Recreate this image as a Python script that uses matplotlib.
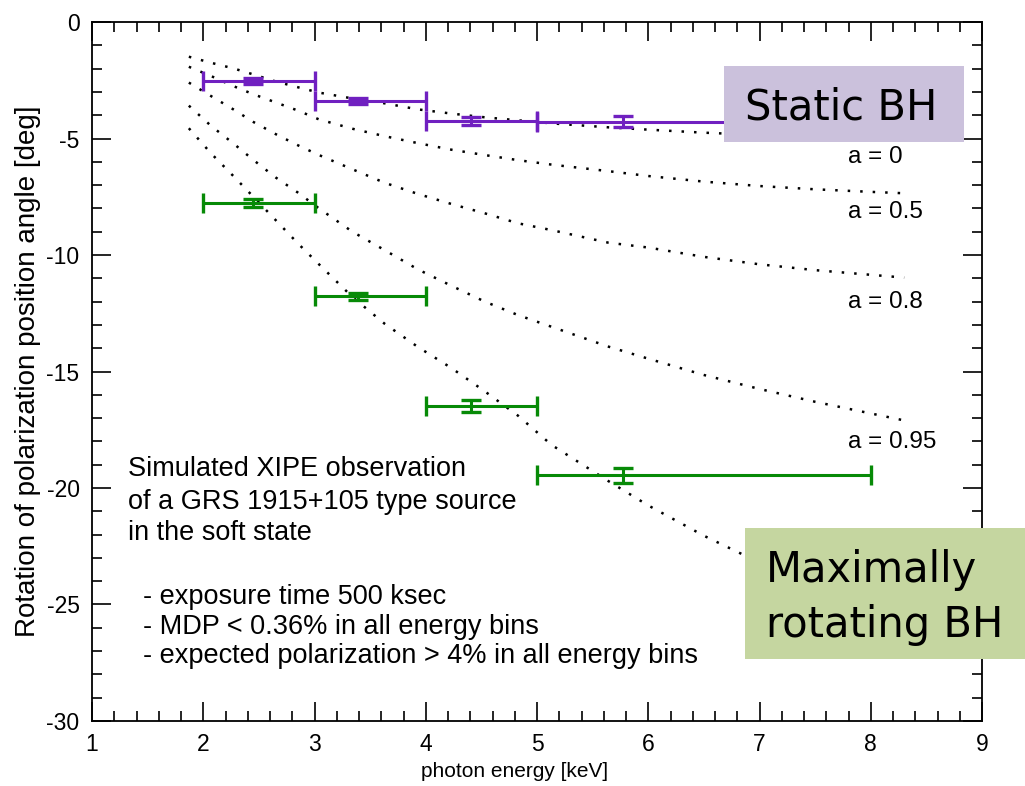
import matplotlib
matplotlib.use("Agg")
from matplotlib import pyplot as plt
from matplotlib.patches import Rectangle
import numpy as np

# ---- data ----
bin_lo = [2, 3, 4, 5]
bin_hi = [3, 4, 5, 8]
bin_mid = [2.45, 3.39, 4.41, 5.77]

static_y = [-2.53, -3.38, -4.24, -4.28]
static_err = [0.12, 0.12, 0.17, 0.24]

rot_y = [-7.78, -11.77, -16.49, -19.46]
rot_err = [0.18, 0.14, 0.26, 0.33]

# model curves (dotted), one per spin value
curve_x = [1.87, 2.07, 2.27, 2.45, 2.65, 2.85, 3.04, 3.34, 3.63, 3.93, 4.23,
           4.53, 4.83, 5.13, 5.64, 6.0, 6.5, 7.0, 7.5, 8.0, 8.3]
a0 = [-1.49, -1.75, -1.99, -2.25, -2.55, -2.80, -3.03, -3.28, -3.49, -3.75,
      -3.93, -4.09, -4.22, -4.35, -4.52, -4.62, -4.75, -4.85, -4.95, -5.02, -5.06]
a05 = [-1.92, -2.32, -2.75, -3.10, -3.45, -3.80, -4.18, -4.58, -4.90, -5.20,
       -5.48, -5.71, -5.93, -6.12, -6.40, -6.61, -6.85, -7.04, -7.18, -7.29, -7.35]
a08 = [-2.60, -3.18, -3.75, -4.29, -4.81, -5.29, -5.71, -6.32, -6.90, -7.38,
       -7.81, -8.21, -8.64, -8.93, -9.47, -9.68, -10.08, -10.40, -10.65, -10.85, -10.97]
a095 = [-3.59, -4.46, -5.21, -5.92, -6.67, -7.32, -8.00, -9.00, -9.79, -10.62,
        -11.32, -12.00, -12.58, -13.08, -13.93, -14.45, -15.15, -15.75, -16.30, -16.80, -17.10]
a_max = [-4.56, -5.64, -6.61, -7.50, -8.50, -9.50, -10.40, -11.80, -12.95, -13.95,
         -14.85, -15.85, -16.90, -18.15, -19.70, -20.75, -22.05, -23.20, -24.30, -25.30, -25.90]

curves = [a0, a05, a08, a095, a_max]
curve_labels = ["a = 0", "a = 0.5", "a = 0.8", "a = 0.95"]
label_y = [0.807, 0.728, 0.599, 0.399]

purple = "#7020c0"
green = "#078a07"

plt.rcParams['font.family'] = ['Liberation Sans', 'DejaVu Sans']
plt.rcParams['axes.unicode_minus'] = False

fig = plt.figure(figsize=(10.25, 7.86), dpi=100)
ax = fig.add_axes([0.0898, 0.0827, 0.8683, 0.8893])

for c in curves:
    ax.plot(curve_x, c, color="black", lw=1.8, linestyle=(0, (1, 4)),
            dash_capstyle="butt", zorder=2)

xerr_lo = np.array(bin_mid) - np.array(bin_lo)
xerr_hi = np.array(bin_hi) - np.array(bin_mid)

ax.errorbar(bin_mid, static_y, xerr=[xerr_lo, xerr_hi], yerr=static_err,
            fmt="none", ecolor=purple, elinewidth=2.2, capsize=7.3, capthick=2.4, zorder=3)
ax.errorbar(bin_mid, rot_y, xerr=[xerr_lo, xerr_hi], yerr=rot_err,
            fmt="none", ecolor=green, elinewidth=2.2, capsize=7.3, capthick=2.4, zorder=3)

ax.set_xlim(1, 9)
ax.set_ylim(-30, 0)
ax.set_xticks(range(1, 10))
ax.set_yticks(range(-30, 1, 5))
ax.set_xticks(np.arange(1, 9.01, 0.2), minor=True)
ax.set_yticks(range(-30, 1), minor=True)
ax.tick_params(which="both", direction="in", top=True, right=True, width=1.2,
               labelsize=16.5, pad=9, colors="black")
ax.tick_params(which="major", length=13.5)
ax.tick_params(which="minor", length=7)
for s in ax.spines.values():
    s.set_linewidth(1.3)

ax.set_xlabel("photon energy [keV]", fontsize=15, labelpad=5)
ax.xaxis.set_label_coords(0.475, -0.058)
ax.set_ylabel("Rotation of polarization position angle [deg]", fontsize=20, labelpad=4)

for lab, ly in zip(curve_labels, label_y):
    ax.text(0.849, ly, lab, transform=ax.transAxes, fontsize=17.5, va="center", ha="left")

note1 = ["Simulated XIPE observation", "of a GRS 1915+105 type source", "in the soft state"]
note1_y = [0.3605, 0.3133, 0.2690]
for t, ty in zip(note1, note1_y):
    ax.text(0.0404, ty, t, transform=ax.transAxes, fontsize=19.5, va="center", ha="left")

note2 = ["- exposure time 500 ksec", "- MDP < 0.36% in all energy bins",
         "- expected polarization > 4% in all energy bins"]
note2_y = [0.1774, 0.1345, 0.0930]
for t, ty in zip(note2, note2_y):
    ax.text(0.0573, ty, t, transform=ax.transAxes, fontsize=19.5, va="center", ha="left")

# highlight boxes
fig.patches.append(Rectangle((0.7063, 0.8193), 0.2341, 0.0967, transform=fig.transFigure,
                             facecolor="#cbc1dc", edgecolor="none", zorder=10))
fig.text(0.8203, 0.8482, "Static BH", fontsize=30, family="DejaVu Sans",
         ha="center", va="baseline", zorder=11)

fig.patches.append(Rectangle((0.7268, 0.1616), 0.2732, 0.1667, transform=fig.transFigure,
                             facecolor="#c5d6a0", edgecolor="none", zorder=10))
fig.text(0.7473, 0.2595, "Maximally", fontsize=30, family="DejaVu Sans",
         ha="left", va="baseline", zorder=11)
fig.text(0.7473, 0.19, "rotating BH", fontsize=30, family="DejaVu Sans",
         ha="left", va="baseline", zorder=11)

fig.savefig("out.png", dpi=100)
